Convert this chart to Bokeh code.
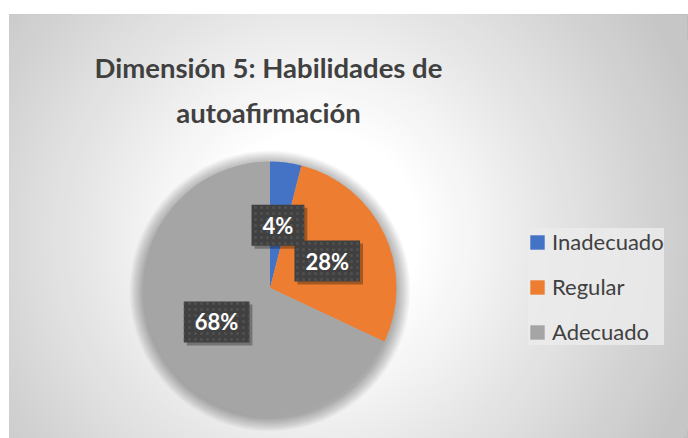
import numpy as np
from bokeh.plotting import figure
from bokeh.models import Range1d, Legend, LegendItem, Label, ColumnDataSource
from bokeh.core.properties import value
from bokeh.embed import file_html
from bokeh.resources import INLINE

# ---- data ----
title_lines = ["Dimensión 5: Habilidades de", "autoafirmación"]
categories = ["Inadecuado", "Regular", "Adecuado"]
percent = [4, 28, 68]
colors = ["#4472C4", "#ED7D31", "#A5A5A5"]

FONT = "Lato"
TXT = "#404040"
PH = 438  # page height; data y = PH - page y

p = figure(width=688, height=438, x_range=Range1d(9, 688), y_range=Range1d(0, PH - 14),
           x_axis_type=None, y_axis_type=None, output_backend="svg", toolbar_location=None,
           min_border_left=9, min_border_top=14, min_border_right=0, min_border_bottom=0)
p.grid.visible = False
p.outline_line_color = "#bdbdbd"
p.background_fill_color = "#c6c6c6"
p.border_fill_color = "white"

# radial gradient background (decoration)
gcx, gcy = 315, PH - 235
radii = np.arange(420, 80, -5)
def shade(r):
    t = min(max((r - 105) / 300.0, 0), 1)
    g = int(round(255 - t * (255 - 198)))
    return "#%02x%02x%02x" % (g, g, g)
p.circle(x=[gcx] * len(radii), y=[gcy] * len(radii), radius=radii,
         fill_color=[shade(r) for r in radii], line_color=None)

# pie geometry
cx, cy, R = 269.5, PH - 287.5, 126.5

# soft shadow (slightly below the pie)
sh = np.arange(14, 0, -1)
p.circle(x=[cx] * len(sh), y=[cy - 3] * len(sh), radius=R + sh,
         fill_color="black", fill_alpha=0.022, line_color=None)

vals = np.array(percent, dtype=float)
frac = vals / vals.sum()
cum = np.concatenate([[0], np.cumsum(frac)])
start = np.pi / 2 - 2 * np.pi * cum[:-1]
end = np.pi / 2 - 2 * np.pi * cum[1:]
mid = (start + end) / 2

src = ColumnDataSource(dict(cat=categories, val=percent, color=colors, start=start, end=end))
wr = p.wedge(x=cx, y=cy, radius=R, start_angle="start", end_angle="end", direction="clock",
             fill_color="color", line_color=None, source=src)

# data labels
lsrc = ColumnDataSource(dict(x=cx + 0.5 * R * np.cos(mid), y=cy + 0.5 * R * np.sin(mid),
                             text=[f"{v}%" for v in percent]))
pad = dict(left=11, right=11, top=7, bottom=7)
p.text(x="x", y="y", text="text", source=lsrc, text_alpha=0,
       text_font=value(FONT), text_font_style="bold", text_font_size="22px",
       text_align="center", text_baseline="middle", x_offset=3, y_offset=3,
       background_fill_color="black", background_fill_alpha=0.3, padding=pad)
p.text(x="x", y="y", text="text", source=lsrc, text_color="white",
       text_font=value(FONT), text_font_style="bold", text_font_size="22px",
       text_align="center", text_baseline="middle",
       background_fill_color="#404040", background_hatch_pattern="dot",
       background_hatch_color="#505050", background_hatch_scale=6, padding=pad)

# title
for i, line in enumerate(title_lines):
    p.add_layout(Label(x=268, y=PH - 67 - 45 * i, text=line, text_align="center",
                       text_baseline="alphabetic", text_font=FONT, text_font_style="bold",
                       text_font_size="27.5px", text_color=TXT))

# legend
legend = Legend(items=[LegendItem(label=c, renderers=[wr], index=i) for i, c in enumerate(categories)],
                location=(519, 93), padding=9, glyph_width=18, glyph_height=18,
                label_standoff=6, spacing=18, margin=0,
                label_text_font=FONT, label_text_font_size="22px", label_text_color=TXT,
                background_fill_color="#ebebeb", background_fill_alpha=0.85,
                border_line_color=None)
p.add_layout(legend)

open("out.html", "w").write(file_html(p, INLINE))
